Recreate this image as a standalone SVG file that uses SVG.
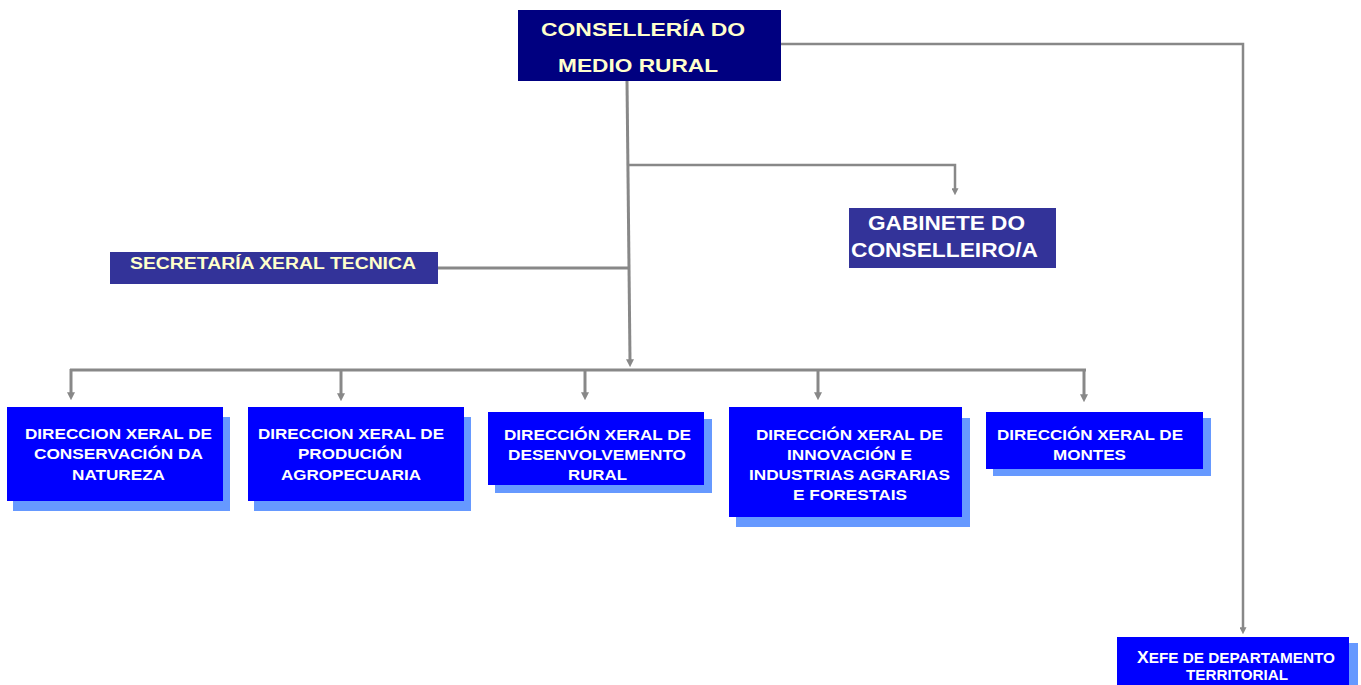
<svg xmlns="http://www.w3.org/2000/svg" width="1361" height="685" viewBox="0 0 1361 685">
<style>
  text { font-family: "Liberation Sans", Arial, sans-serif; font-weight: bold; }
  .navy { fill: #000080; }
  .slate { fill: #333399; }
  .blue { fill: #0000FF; }
  .shadow { fill: #6699FF; }
  .cream { fill: #FFFFCC; }
  .white { fill: #FFFFFF; }
  .dir { font-size: 15px; }
  .conn { fill: none; stroke: #888888; stroke-linecap: butt; stroke-linejoin: miter; }
  .thick { stroke-width: 3; }
  .thin { stroke-width: 2.5; }
</style>
<defs>
  <marker id="arrow" viewBox="0 0 10 10" refX="1" refY="5" markerWidth="8" markerHeight="9" markerUnits="userSpaceOnUse" orient="auto">
    <path d="M0,0 L10,5 L0,10 z" fill="#888888"/>
  </marker>
  <marker id="arrowS" viewBox="0 0 10 10" refX="1" refY="5" markerWidth="7" markerHeight="7" markerUnits="userSpaceOnUse" orient="auto">
    <path d="M0,0 L10,5 L0,10 z" fill="#888888"/>
  </marker>
</defs>

<g id="connectors">
  <path class="conn thick" d="M627,81 L630,360" marker-end="url(#arrow)"/>
  <path class="conn thin" d="M628,165 H955 V189" marker-end="url(#arrowS)"/>
  <path class="conn thick" d="M438,268 H628"/>
  <path class="conn thin" d="M781,44 H1243 V628" marker-end="url(#arrowS)"/>
  <path class="conn thick" d="M70,370 H1086"/>
  <path class="conn thick" d="M71,369 V393" marker-end="url(#arrow)"/>
  <path class="conn thick" d="M341,369 V394" marker-end="url(#arrow)"/>
  <path class="conn thick" d="M585,369 V393" marker-end="url(#arrow)"/>
  <path class="conn thick" d="M818,369 V393" marker-end="url(#arrow)"/>
  <path class="conn thick" d="M1084,369 V395" marker-end="url(#arrow)"/>
</g>

<g id="conselleria">
  <rect class="navy" x="518" y="10" width="263" height="71"/>
  <text class="cream" x="541" y="36" font-size="19" textLength="204" lengthAdjust="spacingAndGlyphs">CONSELLERÍA DO</text>
  <text class="cream" x="558" y="72" font-size="19" textLength="160" lengthAdjust="spacingAndGlyphs">MEDIO RURAL</text>
</g>

<g id="secretaria">
  <rect class="slate" x="110" y="252" width="328" height="32"/>
  <text class="cream" x="130" y="269" font-size="16" textLength="286" lengthAdjust="spacingAndGlyphs">SECRETARÍA XERAL TECNICA</text>
</g>

<g id="gabinete">
  <rect class="slate" x="849" y="208" width="207" height="60"/>
  <text class="white" x="868" y="230" font-size="20" textLength="157" lengthAdjust="spacingAndGlyphs">GABINETE DO</text>
  <text class="white" x="851" y="257" font-size="20" textLength="187" lengthAdjust="spacingAndGlyphs">CONSELLEIRO/A</text>
</g>

<g id="dx-conservacion">
  <rect class="shadow" x="13" y="417" width="217" height="94"/>
  <rect class="blue" x="7" y="407" width="216" height="94"/>
  <text class="white dir" x="25" y="439" textLength="187" lengthAdjust="spacingAndGlyphs">DIRECCION XERAL DE</text>
  <text class="white dir" x="34" y="459" textLength="169" lengthAdjust="spacingAndGlyphs">CONSERVACIÓN DA</text>
  <text class="white dir" x="72" y="480" textLength="93" lengthAdjust="spacingAndGlyphs">NATUREZA</text>
</g>

<g id="dx-producion">
  <rect class="shadow" x="254" y="417" width="217" height="94"/>
  <rect class="blue" x="248" y="407" width="216" height="94"/>
  <text class="white dir" x="258" y="439" textLength="186" lengthAdjust="spacingAndGlyphs">DIRECCION XERAL DE</text>
  <text class="white dir" x="298" y="459" textLength="104" lengthAdjust="spacingAndGlyphs">PRODUCIÓN</text>
  <text class="white dir" x="281" y="480" textLength="140" lengthAdjust="spacingAndGlyphs">AGROPECUARIA</text>
</g>

<g id="dx-desenvolvemento">
  <rect class="shadow" x="495" y="419" width="217" height="74"/>
  <rect class="blue" x="488" y="412" width="216" height="73"/>
  <text class="white dir" x="504" y="440" textLength="187" lengthAdjust="spacingAndGlyphs">DIRECCIÓN XERAL DE</text>
  <text class="white dir" x="508" y="460" textLength="178" lengthAdjust="spacingAndGlyphs">DESENVOLVEMENTO</text>
  <text class="white dir" x="568" y="480" textLength="59" lengthAdjust="spacingAndGlyphs">RURAL</text>
</g>

<g id="dx-innovacion">
  <rect class="shadow" x="736" y="418" width="234" height="109"/>
  <rect class="blue" x="729" y="407" width="233" height="110"/>
  <text class="white dir" x="756" y="440" textLength="187" lengthAdjust="spacingAndGlyphs">DIRECCIÓN XERAL DE</text>
  <text class="white dir" x="787" y="460" textLength="125" lengthAdjust="spacingAndGlyphs">INNOVACIÓN E</text>
  <text class="white dir" x="749" y="480" textLength="201" lengthAdjust="spacingAndGlyphs">INDUSTRIAS AGRARIAS</text>
  <text class="white dir" x="793" y="500" textLength="114" lengthAdjust="spacingAndGlyphs">E FORESTAIS</text>
</g>

<g id="dx-montes">
  <rect class="shadow" x="993" y="418" width="218" height="58"/>
  <rect class="blue" x="986" y="412" width="217" height="57"/>
  <text class="white dir" x="997" y="440" textLength="186" lengthAdjust="spacingAndGlyphs">DIRECCIÓN XERAL DE</text>
  <text class="white dir" x="1053" y="460" textLength="73" lengthAdjust="spacingAndGlyphs">MONTES</text>
</g>

<g id="xefe-territorial">
  <rect class="shadow" x="1124" y="643" width="234" height="50"/>
  <rect class="blue" x="1117" y="637" width="232" height="55"/>
  <text class="white" x="1137" y="663" font-size="14" textLength="198" lengthAdjust="spacingAndGlyphs"><tspan font-size="16">X</tspan>EFE DE DEPARTAMENTO</text>
  <text class="white" x="1186" y="680" font-size="14" textLength="102" lengthAdjust="spacingAndGlyphs">TERRITORIAL</text>
</g>
</svg>
